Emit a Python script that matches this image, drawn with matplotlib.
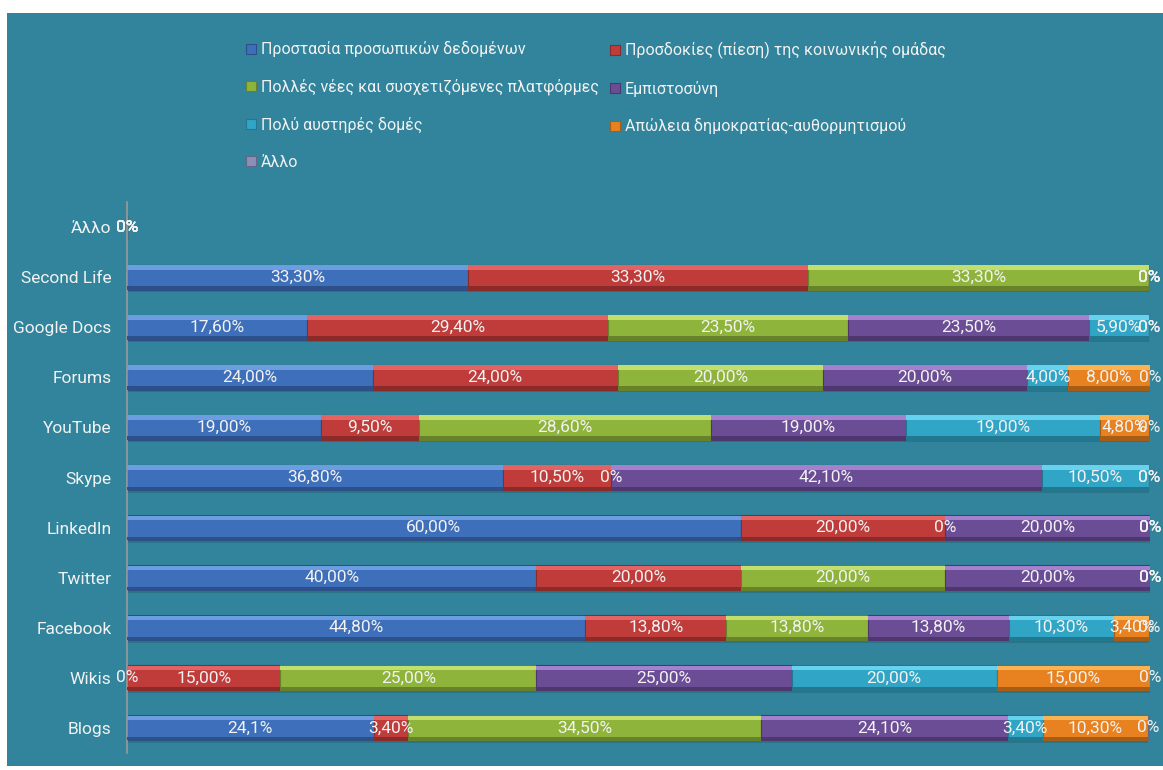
import matplotlib.pyplot as plt
import matplotlib.colors as mcolors
import numpy as np

plt.rcParams['font.family'] = ['Roboto', 'DejaVu Sans']

# categories, bottom to top
categories = ['Blogs', 'Wikis', 'Facebook', 'Twitter', 'LinkedIn', 'Skype',
              'YouTube', 'Forums', 'Google Docs', 'Second Life', 'Άλλο']

series_names = ['Προστασία προσωπικών δεδομένων',
                'Προσδοκίες (πίεση) της κοινωνικής ομάδας',
                'Πολλές νέες και συσχετιζόμενες πλατφόρμες',
                'Εμπιστοσύνη',
                'Πολύ αυστηρές δομές',
                'Απώλεια δημοκρατίας-αυθορμητισμού',
                'Άλλο']

protection = [24.1, 0, 44.8, 40, 60, 36.8, 19, 24, 17.6, 33.3, 0]
expectations = [3.4, 15, 13.8, 20, 20, 10.5, 9.5, 24, 29.4, 33.3, 0]
platforms = [34.5, 25, 13.8, 20, 0, 0, 28.6, 20, 23.5, 33.3, 0]
trust = [24.1, 25, 13.8, 20, 20, 42.1, 19, 20, 23.5, 0, 0]
strict = [3.4, 20, 10.3, 0, 0, 10.5, 19, 4, 5.9, 0, 0]
democracy = [10.3, 15, 3.4, 0, 0, 0, 4.8, 8, 0, 0, 0]
other = [0, 0, 0, 0, 0, 0, 0, 0, 0, 0, 0]

series = [protection, expectations, platforms, trust, strict, democracy, other]

# label written with one decimal in the original
one_decimal = {(0, 0)}

colors = ['#3d6fbb', '#c03c3a', '#8fb43c', '#6b4d96', '#31a5c6', '#e8811f', '#8a90b8']
highlights = ['#6c9de0', '#e46262', '#c2de6c', '#a480cf', '#66d2ee', '#f9b352', '#b8bde0']
bg = '#31849b'
txt = '#f2f2f2'


def fmt(v, si, ci):
    if v == 0:
        return '0%'
    if (si, ci) in one_decimal:
        return f'{v:.1f}'.replace('.', ',') + '%'
    return f'{v:.2f}'.replace('.', ',') + '%'


fig = plt.figure(figsize=(11.63, 7.70), dpi=100, facecolor='white')
fig.patches.append(plt.Rectangle((7 / 1163, 4 / 770), 1, 1 - 17 / 770,
                                 transform=fig.transFigure, facecolor=bg,
                                 edgecolor='none', zorder=-10))

ax = fig.add_axes([127 / 1163, 1 - 753 / 770, (1150 - 127) / 1163, (753 - 202) / 770])
ax.set_facecolor('none')

y = np.arange(len(categories))
h = 0.5
left = np.zeros(len(categories))
handles = []
for si, vals in enumerate(series):
    vals = np.array(vals, dtype=float)
    base = colors[si]
    dark = mcolors.to_hex(np.array(mcolors.to_rgb(base)) * 0.72)
    # soft shadow under the bar
    ax.barh(y - 0.05, vals, left=left, height=h, color='#1d4f5e', alpha=0.3,
            linewidth=0, zorder=1)
    b = ax.barh(y, vals, left=left, height=h, color=base, edgecolor=dark,
                linewidth=0.8, zorder=2, label=series_names[si])
    # bevel: light top edge, dark bottom edge
    ax.barh(y + h / 2 - 0.055, vals, left=left, height=0.09, color=highlights[si],
            linewidth=0, zorder=3)
    ax.barh(y - h / 2 + 0.035, vals, left=left, height=0.07, color=dark,
            linewidth=0, zorder=3)
    handles.append(b)
    for ci, v in enumerate(vals):
        ax.text(left[ci] + v / 2, y[ci], fmt(v, si, ci), ha='center', va='center',
                color=txt, fontsize=12.5, zorder=5)
    left += vals

ax.set_xlim(0, 100)
ax.set_ylim(-0.5, len(categories) - 0.5)
ax.set_yticks(y)
ax.set_yticklabels(categories, color=txt, fontsize=12.5)
ax.tick_params(axis='y', length=0, pad=11)
ax.set_xticks([])
for s in ['top', 'right', 'bottom']:
    ax.spines[s].set_visible(False)
ax.spines['left'].set_color('#9a9a9a')
ax.spines['left'].set_linewidth(1.2)

# legend: two separate columns, filled row by row
leg_kw = dict(loc='upper left', frameon=False, fontsize=11.5, labelcolor=txt,
              handlelength=0.6, handleheight=0.6, handletextpad=0.3,
              labelspacing=1.35, borderaxespad=0)
col1 = [0, 2, 4, 6]
col2 = [1, 3, 5]
leg1 = fig.legend([handles[i] for i in col1], [series_names[i] for i in col1],
                  bbox_to_anchor=(240 / 1163, 1 - 35 / 770), **leg_kw)
leg2 = fig.legend([handles[i] for i in col2], [series_names[i] for i in col2],
                  bbox_to_anchor=(604 / 1163, 1 - 35 / 770), **leg_kw)

fig.savefig('out.png', dpi=100, facecolor='white')
